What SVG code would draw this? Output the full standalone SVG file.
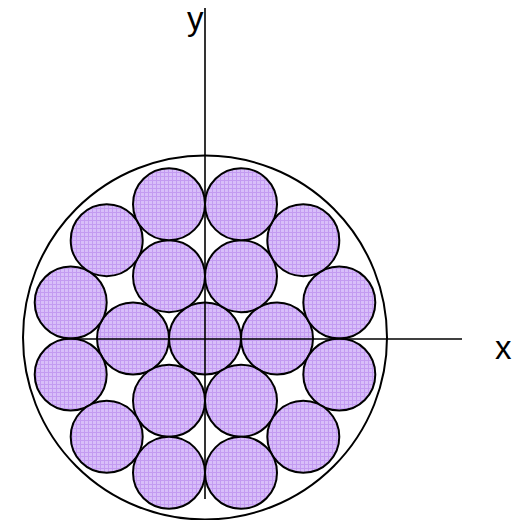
<svg xmlns="http://www.w3.org/2000/svg" width="521" height="520" viewBox="0 0 521 520">
<defs>
<pattern id="tex" width="4" height="4" patternUnits="userSpaceOnUse">
<rect width="4" height="4" fill="#D8BEF9"/>
<rect width="4" height="1" fill="#C39BF1"/>
<rect width="1" height="4" fill="#C39BF1"/>
</pattern>
<style>
.strand{fill:url(#tex);stroke:#000;stroke-width:2}
.outer{fill:none;stroke:#000;stroke-width:2}
.axis{stroke:#000;stroke-width:1.6;fill:none}
.lbl{font-family:"Liberation Sans",Arial,sans-serif;font-size:33px;fill:#000}
</style>
</defs>
<rect width="521" height="520" fill="#fff"/>
<g id="casing"><circle class="outer" cx="205" cy="337.5" r="182"/></g>
<g id="strands">
<g id="s0"><circle class="strand" cx="205" cy="338.5" r="36"/></g>
<g id="s1"><circle class="strand" cx="277" cy="338.5" r="36"/></g>
<g id="s2"><circle class="strand" cx="133" cy="338.5" r="36"/></g>
<g id="s3"><circle class="strand" cx="241" cy="276.2" r="36"/></g>
<g id="s4"><circle class="strand" cx="169" cy="276.2" r="36"/></g>
<g id="s5"><circle class="strand" cx="241" cy="400.8" r="36"/></g>
<g id="s6"><circle class="strand" cx="169" cy="400.8" r="36"/></g>
<g id="s7"><circle class="strand" cx="339.3" cy="302.5" r="36"/></g>
<g id="s8"><circle class="strand" cx="339.3" cy="374.5" r="36"/></g>
<g id="s9"><circle class="strand" cx="70.7" cy="302.5" r="36"/></g>
<g id="s10"><circle class="strand" cx="70.7" cy="374.5" r="36"/></g>
<g id="s11"><circle class="strand" cx="303.3" cy="240.2" r="36"/></g>
<g id="s12"><circle class="strand" cx="303.3" cy="436.8" r="36"/></g>
<g id="s13"><circle class="strand" cx="106.7" cy="240.2" r="36"/></g>
<g id="s14"><circle class="strand" cx="106.7" cy="436.8" r="36"/></g>
<g id="s15"><circle class="strand" cx="241" cy="204.2" r="36"/></g>
<g id="s16"><circle class="strand" cx="169" cy="204.2" r="36"/></g>
<g id="s17"><circle class="strand" cx="241" cy="472.8" r="36"/></g>
<g id="s18"><circle class="strand" cx="169" cy="472.8" r="36"/></g>
</g>
<g id="axes">
<line class="axis" x1="205" y1="8" x2="205" y2="499"/>
<line class="axis" x1="64" y1="339" x2="462" y2="339"/>
</g>
<g id="labels">
<text class="lbl" x="187" y="30">y</text>
<text class="lbl" x="495" y="359">x</text>
</g>
</svg>
